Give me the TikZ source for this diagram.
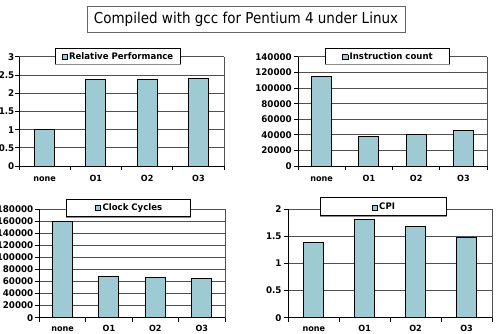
\documentclass[tikz,border=0pt]{standalone}
\usepackage{fontspec}
\setmainfont{DejaVu Sans}
\newfontfamily\titlefont[FakeStretch=0.9]{DejaVu Sans}
\newfontfamily\chartfont[FakeStretch=0.95]{DejaVu Sans Bold}

\definecolor{barfill}{RGB}{158,202,212}
\definecolor{gridcol}{RGB}{80,80,80}

\tikzset{
  gridline/.style={draw=gridcol, line width=1pt},
  axisline/.style={draw=black, line width=1pt},
  barbox/.style={draw=black, fill=barfill, line width=1pt},
  ylab/.style={inner sep=0pt, anchor=east, font=\chartfont\fontsize{9.2}{10}\selectfont},
  catlab/.style={inner sep=0pt, anchor=base, font=\chartfont\fontsize{8.5}{10}\selectfont},
  legbox/.style={draw=black, fill=white, line width=1pt, inner sep=0pt,
    font=\chartfont\fontsize{9}{10}\selectfont},
  legedge/.style={draw=black!45, line width=1pt},
  titlebox/.style={draw=black!60, fill=white, line width=0.8pt, inner sep=0pt,
    font=\titlefont\fontsize{15}{17}\selectfont},
}

\newcommand\swatch{{\setlength\fboxsep{0pt}\setlength\fboxrule{0.6pt}%
  \fcolorbox{black}{barfill}{\rule{0pt}{4.6pt}\hspace{4.6pt}}}}

% keys describing one bar chart (plot area in pixel-like units)
\pgfkeys{/bc/.cd,
  left/.store in=\bcL, right/.store in=\bcR,
  top/.store in=\bcT, bottom/.store in=\bcB,
  steps/.store in=\bcN, ticks/.store in=\bcTicks,
  ymax/.store in=\bcMax, values/.store in=\bcVals,
  legend/.store in=\bcLeg, legx/.store in=\bcLX, legy/.store in=\bcLY,
  legw/.store in=\bcLW, legh/.store in=\bcLH,
  labelx/.store in=\bcYX, caty/.store in=\bcCY}

\newcommand\barchart[2]{%
  \begingroup
  \pgfkeys{/bc/.cd,#2}%
  % horizontal gridlines and right border
  \foreach \k in {1,...,\bcN}{
    \pgfmathsetmacro\yy{\bcB-(\bcB-\bcT)*\k/\bcN}
    \draw[gridline] (\bcL,\yy) -- (\bcR,\yy);
  }
  \draw[gridline] (\bcR,\bcT) -- (\bcR,\bcB);
  % bars
  \foreach \v [count=\i] in \bcVals {
    \pgfmathsetmacro\cx{\bcL+(\bcR-\bcL)*(\i-0.5)/4}
    \pgfmathsetmacro\yt{\bcB-(\bcB-\bcT)*(\v/\bcMax)}
    \draw[barbox] (\cx-10,\bcB) rectangle (\cx+10,\yt);
  }
  % axes
  \draw[axisline] (\bcL,\bcT) -- (\bcL,\bcB) -- (\bcR,\bcB);
  \foreach \t [count=\k from 0] in \bcTicks {
    \pgfmathsetmacro\yy{\bcB-(\bcB-\bcT)*\k/\bcN}
    \draw[axisline] (\bcL-4,\yy) -- (\bcL,\yy);
    \node[ylab] (#1-y\k) at (\bcYX,\yy) {\t};
  }
  \foreach \i in {0,...,4}{
    \pgfmathsetmacro\xx{\bcL+(\bcR-\bcL)*\i/4}
    \draw[axisline] (\xx,\bcB) -- (\xx,\bcB+4);
  }
  \foreach \c [count=\i] in {none,O1,O2,O3}{
    \pgfmathsetmacro\cx{\bcL+(\bcR-\bcL)*(\i-0.5)/4}
    \node[catlab] (#1-c\i) at (\cx,\bcCY) {\c};
  }
  % legend, with a lighter lower edge
  \node[legbox, minimum width=\bcLW, minimum height=\bcLH] (#1-leg)
    at (\bcLX,\bcLY) {\swatch\hspace{1.6pt}\bcLeg};
  \draw[legedge] (#1-leg.south west) -- (#1-leg.south east);
  \endgroup
}

\begin{document}
\begin{tikzpicture}[x=1pt, y=-1pt]
\useasboundingbox (0,0) rectangle (497,334);

\node[titlebox, minimum width=318pt, minimum height=26pt] (title) at (246,19)
  {Compiled with gcc for Pentium 4 under Linux};

\barchart{perf}{left=19, right=224, top=57, bottom=166, steps=6,
  ticks={0,0.5,1,1.5,2,2.5,3}, ymax=3, values={1,2.38,2.39,2.41},
  legend={Relative Performance}, legx=117.5, legy=56.3, legw=125pt, legh=16pt,
  labelx=14.5, caty=181.5}

\barchart{icount}{left=298, right=487, top=57, bottom=166, steps=7,
  ticks={0,20000,40000,60000,80000,100000,120000,140000}, ymax=140,
  values={114.5,38.5,40.2,45.3},
  legend={Instruction count}, legx=387.5, legy=56.3, legw=124.4pt, legh=16pt,
  labelx=292, caty=181.5}

\barchart{cycles}{left=39.3, right=225, top=209, bottom=317.7, steps=9,
  ticks={0,20000,40000,60000,80000,100000,120000,140000,160000,180000}, ymax=180,
  values={159.5,67.9,66.9,65.7},
  legend={Clock Cycles}, legx=128.7, legy=207.8, legw=124pt, legh=17.5pt,
  labelx=33.5, caty=331.5}

\barchart{cpi}{left=288.3, right=492, top=209, bottom=317.7, steps=4,
  ticks={0,0.5,1,1.5,2}, ymax=2, values={1.38,1.80,1.67,1.47},
  legend={CPI}, legx=383.4, legy=206.7, legw=125.3pt, legh=18.5pt,
  labelx=281.7, caty=331.5}
\end{tikzpicture}
\end{document}
